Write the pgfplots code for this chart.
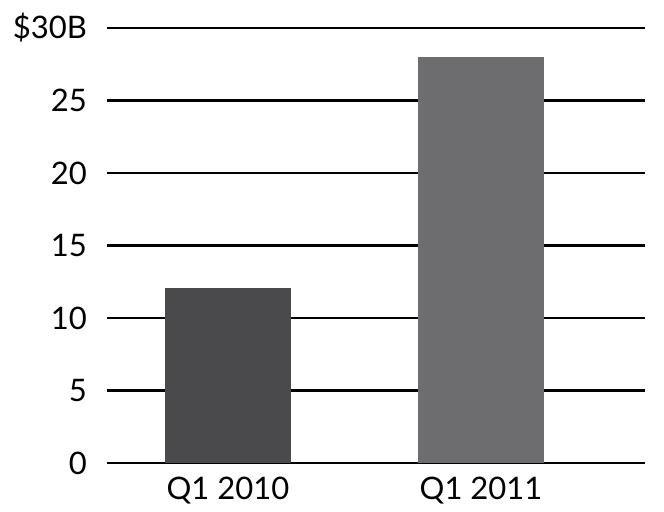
\documentclass[border=0pt]{standalone}
\usepackage{pgfplots}
\pgfplotsset{compat=1.18}
\usepackage{fontspec}
\setmainfont{Lato}
\definecolor{barA}{HTML}{4A4A4C}
\definecolor{barB}{HTML}{6D6D6F}
\begin{document}
\begin{tikzpicture}
  \begin{axis}[
      scale only axis,
      width=269pt, height=217.5pt,
      xmin=-0.478, xmax=1.648,
      ymin=0, ymax=30,
      axis line style={draw=none},
      ytick={0,5,10,15,20,25,30},
      yticklabels={0,5,10,15,20,25,\$30B},
      xtick={0,1},
      xticklabels={Q1 2010,Q1 2011},
      major tick length=0pt,
      ymajorgrids,
      grid style={black, line width=1.3pt},
      tick label style={font=\fontsize{15.5}{18}\selectfont},
      yticklabel style={xshift=-6.5pt},
      xticklabel style={yshift=-3.5pt},
      /pgf/number format/assume math mode=true,
      clip=false,
    ]
    \addplot[ybar, bar width=63pt, fill=barA, draw=none] coordinates {(0,12.1)};
    \addplot[ybar, bar width=63pt, fill=barB, draw=none] coordinates {(1,28.0)};
  \end{axis}
  \path ([shift={(-53.5pt,-24.5pt)}]current axis.south west) rectangle ([shift={(9.5pt,14pt)}]current axis.north east);
\end{tikzpicture}
\end{document}
